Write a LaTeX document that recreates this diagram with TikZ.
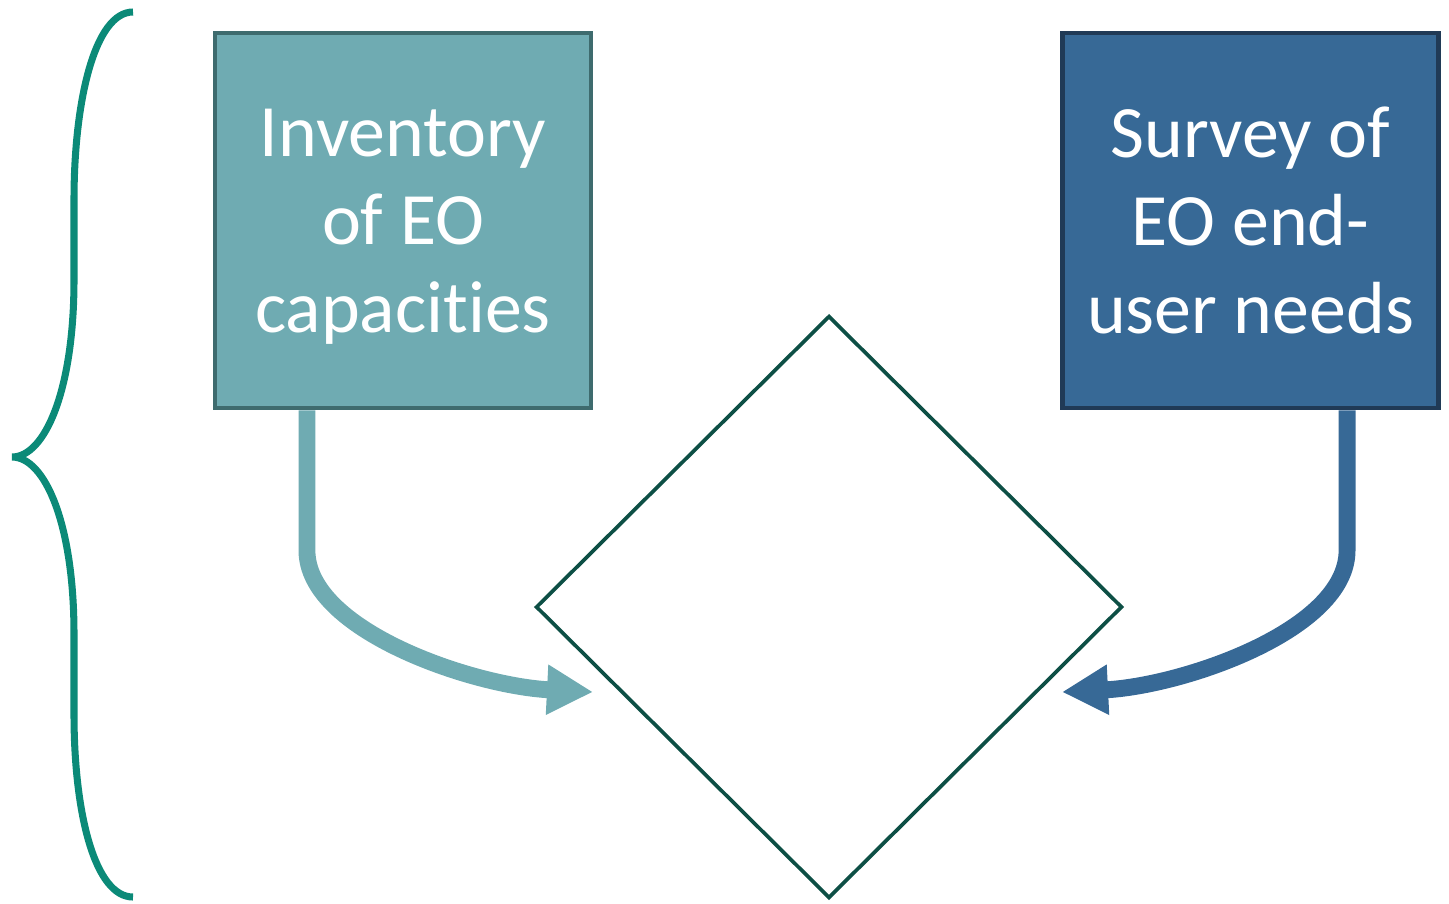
\documentclass[tikz,border=0pt]{standalone}
\usepackage{fontspec}
\setmainfont{Carlito}[Ligatures=NoCommon]
\usetikzlibrary{arrows.meta,shapes.geometric}
\definecolor{invfill}{HTML}{6FABB2}
\definecolor{invline}{HTML}{3E6B6E}
\definecolor{surfill}{HTML}{376996}
\definecolor{surline}{HTML}{203A56}
\definecolor{matchline}{HTML}{0D4F45}
\definecolor{bracecol}{HTML}{0B8A78}
\begin{document}
\begin{tikzpicture}[x=0.01cm,y=-0.01cm,
	box/.style={draw,line width=1.3pt,minimum width=3.76cm,minimum height=3.75cm,inner sep=0pt,text=white,align=center,text depth=0pt,font=\fontsize{21}{25}\selectfont},
	flow/.style={line width=4.8pt,-{Triangle[length=0.46cm,width=0.47cm]}}]
	\useasboundingbox (0,0) rectangle (1449,903);
	\node[box,fill=invfill,draw=invline] (inv) at (403,220.5) {Inventory\\of EO\\capacities};
	\node[box,fill=surfill,draw=surline] (sur) at (1250.5,220.5) {Survey of\\EO end-\\user needs};
	\node[diamond,draw=matchline,line width=1.05pt,minimum width=5.86cm,minimum height=5.82cm,inner sep=0pt] (match) at (829,607) {};
	\coordinate (invtip) at (593,692);
	\coordinate (surtip) at (1062,692);
	\draw[flow,invfill] ([xshift=-0.96cm]inv.south) -- ++(0,140) .. controls +(0,80) and +(-120,-6) .. (invtip);
	\draw[flow,surfill] ([xshift=0.965cm]sur.south) -- ++(0,140) .. controls +(0,80) and +(120,-6) .. (surtip);
	\draw[bracecol,line width=2pt] (133,12) .. controls (95,12) and (74,100) .. (74,200) -- (74,280) .. controls (74,390) and (45,457) .. (12,457) .. controls (45,457) and (74,524) .. (74,634) -- (74,714) .. controls (74,814) and (95,897) .. (133,897);
\end{tikzpicture}
\end{document}
